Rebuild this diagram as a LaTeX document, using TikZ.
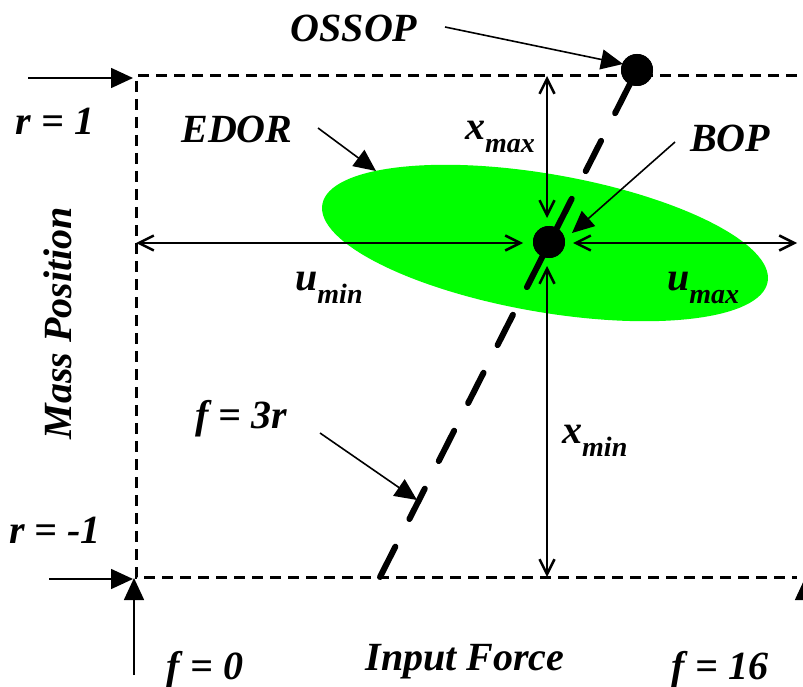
\documentclass[tikz,border=0pt]{standalone}
\usepackage{fontspec}
\setmainfont{Liberation Serif}
\usetikzlibrary{arrows.meta,shapes.geometric}
\definecolor{edorgreen}{RGB}{0,255,0}
\newcommand{\lowsub}[1]{\raisebox{-13pt}{\fontsize{28}{30}\selectfont #1}}

\begin{document}
\begin{tikzpicture}[
    x=1pt, y=-1pt,
    lbl/.style={font=\bfseries\itshape\fontsize{40}{42}\selectfont, inner sep=0pt},
    dot/.style={circle, fill=black, minimum size=32pt, inner sep=0pt},
    pointer/.style={line width=1.6pt, -{Triangle[length=22pt,width=20pt]}},
    dimline/.style={line width=2.5pt, {Straight Barb[length=15pt,width=15pt]}-{Straight Barb[length=15pt,width=15pt]}},
    bounds/.style={line width=3pt, dash pattern=on 11pt off 7pt}
]
\useasboundingbox (0,0) rectangle (803,687);

% region of the operating range
\node[ellipse, fill=edorgreen, minimum width=452pt, minimum height=138pt, rotate=-9.85] (edorshape) at (545,243) {};

% dashed limits
\coordinate (topright) at (797,76);
\coordinate (topleft) at (136,76);
\coordinate (botleft) at (136,577);
\coordinate (botright) at (797,577);
\draw[bounds] (topright) -- (topleft) -- (botleft) -- (botright);

% points
\node[dot] (bop) at (549,242) {};
\node[dot] (ossop) at (637,70) {};
\coordinate (linefoot) at (380,577);
\draw[line width=6pt, line cap=round, dash pattern=on 34pt off 31pt] (linefoot) -- (ossop.center);
\node[dot] at (bop) {};
\node[dot] at (ossop) {};

% dimensions
\coordinate (xmaxtop) at (547,76);
\coordinate (xmaxbot) at (547,218);
\coordinate (xmintop) at (547,266);
\coordinate (xminbot) at (547,577);
\coordinate (uminleft) at (136,243);
\coordinate (uminright) at (523,243);
\coordinate (umaxleft) at (573,243);
\coordinate (umaxright) at (797,243);
\draw[dimline] (xmaxtop) -- (xmaxbot);
\draw[dimline] (xmintop) -- (xminbot);
\draw[dimline] (uminleft) -- (uminright);
\draw[dimline] (umaxleft) -- (umaxright);

% labels
\node[lbl, anchor=base] (ossoplbl) at (354,42) {OSSOP};
\node[lbl, anchor=base] (boplbl) at (730,152) {BOP};
\node[lbl, anchor=base] (edorlbl) at (237,143) {EDOR};
\node[lbl, anchor=base] (rone) at (55,135) {r = 1};
\node[lbl, anchor=base] (rmone) at (55,543) {r = -1};
\node[lbl, anchor=base] (fzero) at (205,679) {f = 0};
\node[lbl, anchor=base] (fsixteen) at (720,679) {f = 16};
\node[lbl, anchor=base] (fthree) at (241,428) {f = 3r};
\node[lbl, anchor=base] (forcelbl) at (465,670) {Input Force};
\node[lbl, rotate=90] (masslbl) at (58,323) {Mass Position};
\node[lbl, anchor=base west] (xmaxlbl) at (465,140) {x\lowsub{max}};
\node[lbl, anchor=base west] (xminlbl) at (562,443) {x\lowsub{min}};
\node[lbl, anchor=base west] (uminlbl) at (295,290) {u\lowsub{min}};
\node[lbl, anchor=base west] (umaxlbl) at (667,290) {u\lowsub{max}};

% pointers
\coordinate (ossopfrom) at (445,27);
\coordinate (ossopto) at (623,64);
\coordinate (bopfrom) at (675,142);
\coordinate (bopto) at (572,233);
\coordinate (edorfrom) at (318,128);
\coordinate (edorto) at (376,171);
\coordinate (fthreefrom) at (320,433);
\coordinate (fthreeto) at (417,500);
\draw[pointer] (ossopfrom) -- (ossopto);
\draw[pointer] (bopfrom) -- (bopto);
\draw[pointer] (edorfrom) -- (edorto);
\draw[pointer] (fthreefrom) -- (fthreeto);

% axis markers
\coordinate (ronefrom) at (28,78);
\coordinate (rmonefrom) at (49,579);
\coordinate (fzerofrom) at (134,675);
\coordinate (fsixfrom) at (805,675);
\coordinate (fsixto) at (805,578);
\draw[pointer] (ronefrom) -- (133,78);
\draw[pointer] (rmonefrom) -- (133,579);
\draw[pointer] (fzerofrom) -- (134,578);
\draw[pointer] (fsixfrom) -- (fsixto);
\end{tikzpicture}
\end{document}
